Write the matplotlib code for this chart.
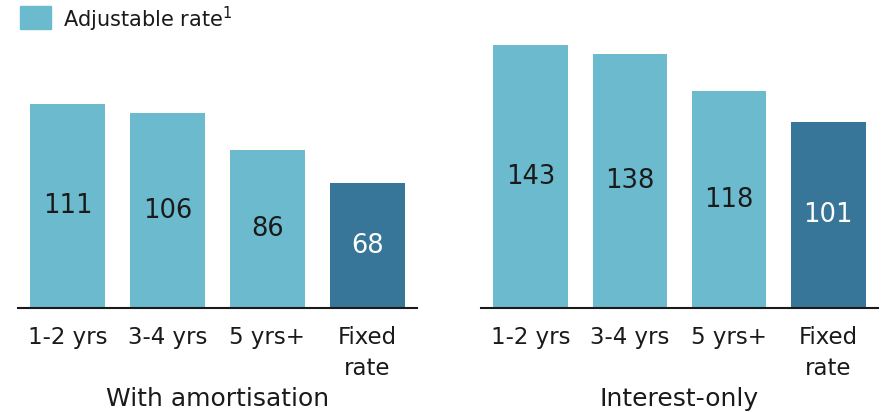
import matplotlib
matplotlib.use("Agg")
import matplotlib.pyplot as plt
from matplotlib.patches import Rectangle

plt.rcParams['font.family'] = ['DejaVu Sans']

categories = ["1-2 yrs", "3-4 yrs", "5 yrs+", "Fixed\nrate"]
amortisation = [111, 106, 86, 68]
interest_only = [143, 138, 118, 101]
group_titles = ["With amortisation", "Interest-only"]
legend_label = "Adjustable rate$^1$"

light = "#6cbacd"
dark = "#377698"
text_col = "#1a1a1a"
colors = [light, light, light, dark]
label_colors = [text_col, text_col, text_col, "white"]

W, H = 885, 412
fig = plt.figure(figsize=(W / 100, H / 100), dpi=100)

# axes boxes in pixels: left, right
boxes = [(18, 417), (481, 878)]
base = 308
ymax = base / 1.837

for (x0, x1), vals, title in zip(boxes, [amortisation, interest_only], group_titles):
    ax = fig.add_axes([x0 / W, 1 - base / H, (x1 - x0) / W, base / H])
    xs = range(len(vals))
    ax.bar(xs, vals, width=0.75, color=colors)
    for x, v, c in zip(xs, vals, label_colors):
        ax.text(x, v / 2, str(v), ha="center", va="center", fontsize=18.5, color=c)
    ax.set_xlim(-0.5, 3.5)
    ax.set_ylim(0, ymax)
    for s in ["top", "right", "left"]:
        ax.spines[s].set_visible(False)
    ax.spines["bottom"].set_linewidth(1.5)
    ax.spines["bottom"].set_color(text_col)
    ax.set_yticks([])
    ax.set_xticks(list(xs))
    ax.set_xticklabels(categories, fontsize=16.5, color=text_col, linespacing=1.45)
    ax.tick_params(axis="x", length=0, pad=13)
    fig.text((x0 + x1) / 2 / W, 1 - 399 / H, title, ha="center", va="center",
             fontsize=18, color=text_col)

# legend
fig.patches.append(Rectangle((20 / W, 1 - 29 / H), 31 / W, 23 / H,
                             transform=fig.transFigure, color=light))
fig.text(63 / W, 1 - 19 / H, legend_label, ha="left", va="center",
         fontsize=15, color=text_col)

fig.savefig("out.png", dpi=100)
